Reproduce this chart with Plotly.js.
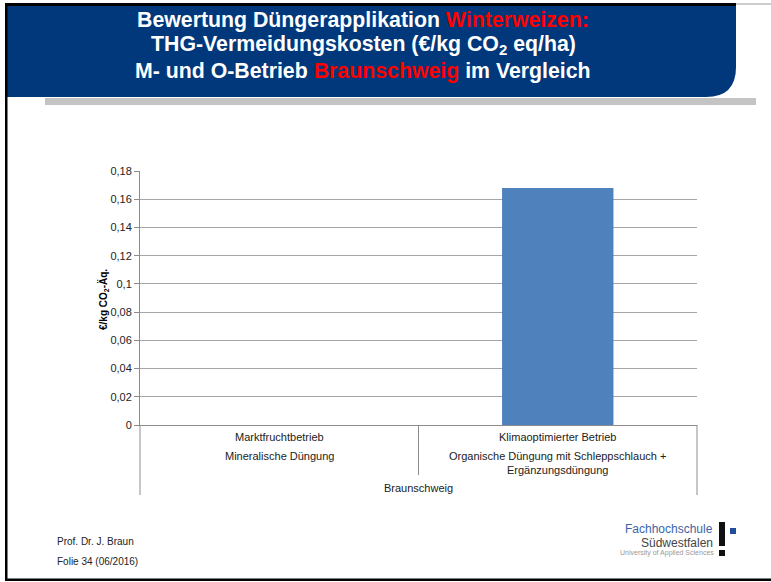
<!DOCTYPE html>
<html>
<head>
<meta charset="utf-8">
<script src="https://cdn.plot.ly/plotly-3.0.1.min.js"></script>
<style>html,body{margin:0;padding:0;background:#fff;}#chart{width:771px;height:582px;}</style>
</head>
<body>
<div id="chart"></div>
<script>
// ---- data ----
const categories = ["Marktfruchtbetrieb", "Klimaoptimierter Betrieb"];
const subLabels = ["Mineralische Düngung", "Organische Düngung mit Schleppschlauch +<br>Ergänzungsdüngung"];
const groupLabel = "Braunschweig";
const values = [0, 0.168];
const yTickVals = [0, 0.02, 0.04, 0.06, 0.08, 0.1, 0.12, 0.14, 0.16, 0.18];
const titleLines = [
  'Bewertung Düngerapplikation <span style="color:#ff0000">Winterweizen:</span>',
  'THG-Vermeidungskosten (€/kg CO<sub>2</sub> eq/ha)',
  'M- und O-Betrieb <span style="color:#ff0000">Braunschweig</span> im Vergleich'
];
const yTitle = '€/kg CO<sub>2</sub>-Äq.';
const footer = ["Prof. Dr. J. Braun", "Folie 34 (06/2016)"];

// ---- geometry helpers (pixel -> paper) ----
const L = 140, R = 697, T = 171, B = 425;
const W = R - L, H = B - T;
const px = x => (x - L) / W;
const py = y => (B - y) / H;

const FONT = "Liberation Sans, Arial, sans-serif";

const shapes = [];
function rect(x0, y0, x1, y1, color) {
  shapes.push({type: 'rect', xref: 'paper', yref: 'paper', x0: px(x0), x1: px(x1), y0: py(y0), y1: py(y1),
    fillcolor: color, line: {width: 0}, layer: 'above'});
}
function line(x0, y0, x1, y1, color, w) {
  shapes.push({type: 'line', xref: 'paper', yref: 'paper', x0: px(x0), x1: px(x1), y0: py(y0), y1: py(y1),
    line: {color: color, width: w}, layer: 'above'});
}
// shadow under banner
rect(45, 98, 756, 105, '#c4c4c4');
// banner with rounded bottom-right corner
const rr = 30;
shapes.push({type: 'path', xref: 'paper', yref: 'paper', fillcolor: '#00387b', line: {width: 0}, layer: 'above',
  path: `M ${px(7)} ${py(6)} L ${px(736)} ${py(6)} L ${px(736)} ${py(97 - rr)} Q ${px(736)} ${py(97)} ${px(736 - rr)} ${py(97)} L ${px(7)} ${py(97)} Z`});
// frame lines
rect(5, 3, 736, 6, '#000000');
line(736, 4, 771, 4, '#999999', 1);
rect(5, 3, 7.5, 581, '#000000');
rect(5, 578.5, 771, 581, '#000000');
// category separators
line(L, B, L, 495, '#8c8c8c', 1);
line(R, B, R, 495, '#8c8c8c', 1);
line((L + R) / 2, B, (L + R) / 2, 475, '#8c8c8c', 1);
// logo marks
rect(719, 522, 725, 546, '#111111');
rect(719, 550, 725, 556, '#111111');
rect(730, 528, 736, 534, '#1f4e9a');

const annotations = [];
function txt(text, x, y, size, color, opts) {
  annotations.push(Object.assign({text: text, xref: 'paper', yref: 'paper', x: px(x), y: py(y),
    xanchor: 'center', yanchor: 'middle', showarrow: false,
    font: {family: FONT, size: size, color: color}}, opts || {}));
}
// title lines
const titleY = [20, 45, 71];
titleLines.forEach((t, i) => txt('<b>' + t + '</b>', 363, titleY[i], 21.3, '#ffffff'));
// y title
txt('<b>' + yTitle + '</b>', 103, 300, 10, '#000000', {textangle: -90});
// category labels
categories.forEach((c, i) => {
  annotations.push({text: c, xref: 'x', yref: 'paper', x: c, y: py(437), xanchor: 'center', yanchor: 'middle',
    showarrow: false, font: {family: FONT, size: 11, color: '#222'}});
  annotations.push({text: subLabels[i], xref: 'x', yref: 'paper', x: c, y: py(455), xanchor: 'center', yanchor: 'top',
    yshift: 7, showarrow: false, font: {family: FONT, size: 11, color: '#222'}});
});
txt(groupLabel, (L + R) / 2, 488, 11, '#222');
// footer
txt(footer[0], 55, 541, 10, '#222', {xanchor: 'left'});
txt(footer[1], 55, 561, 10, '#222', {xanchor: 'left'});
// logo text
txt('Fachhochschule', 714, 529, 12, '#3b64a8', {xanchor: 'right', borderpad: 0});
txt('Südwestfalen', 714, 543, 12, '#444444', {xanchor: 'right', borderpad: 0});
txt('University of Applied Sciences', 715, 553, 7, '#999999', {xanchor: 'right', borderpad: 0});

const trace = {
  type: 'bar', x: categories, y: values, width: 0.4,
  marker: {color: '#4f81bd', line: {width: 0}},
  hoverinfo: 'skip'
};

const layout = {
  width: 771, height: 582,
  margin: {l: L, r: 771 - R, t: T, b: 582 - B, pad: 0},
  paper_bgcolor: '#ffffff', plot_bgcolor: '#ffffff',
  separators: ', ',
  showlegend: false,
  font: {family: FONT, size: 11, color: '#222'},
  xaxis: {type: 'category', range: [-0.5, 1.5], showticklabels: false, ticks: '', showgrid: false,
    showline: true, linecolor: '#8c8c8c', linewidth: 1, zeroline: false, fixedrange: true},
  yaxis: {range: [0, 0.18], tickvals: yTickVals, ticks: 'outside', ticklen: 5, tickcolor: '#8c8c8c',
    showline: true, linecolor: '#8c8c8c', linewidth: 1, showgrid: true, gridcolor: '#a6a6a6', gridwidth: 1,
    zeroline: false, tickfont: {family: FONT, size: 11, color: '#222'}, fixedrange: true},
  shapes: shapes,
  annotations: annotations
};

Plotly.newPlot('chart', [trace], layout, {displayModeBar: false, staticPlot: true});
</script>
</body>
</html>
